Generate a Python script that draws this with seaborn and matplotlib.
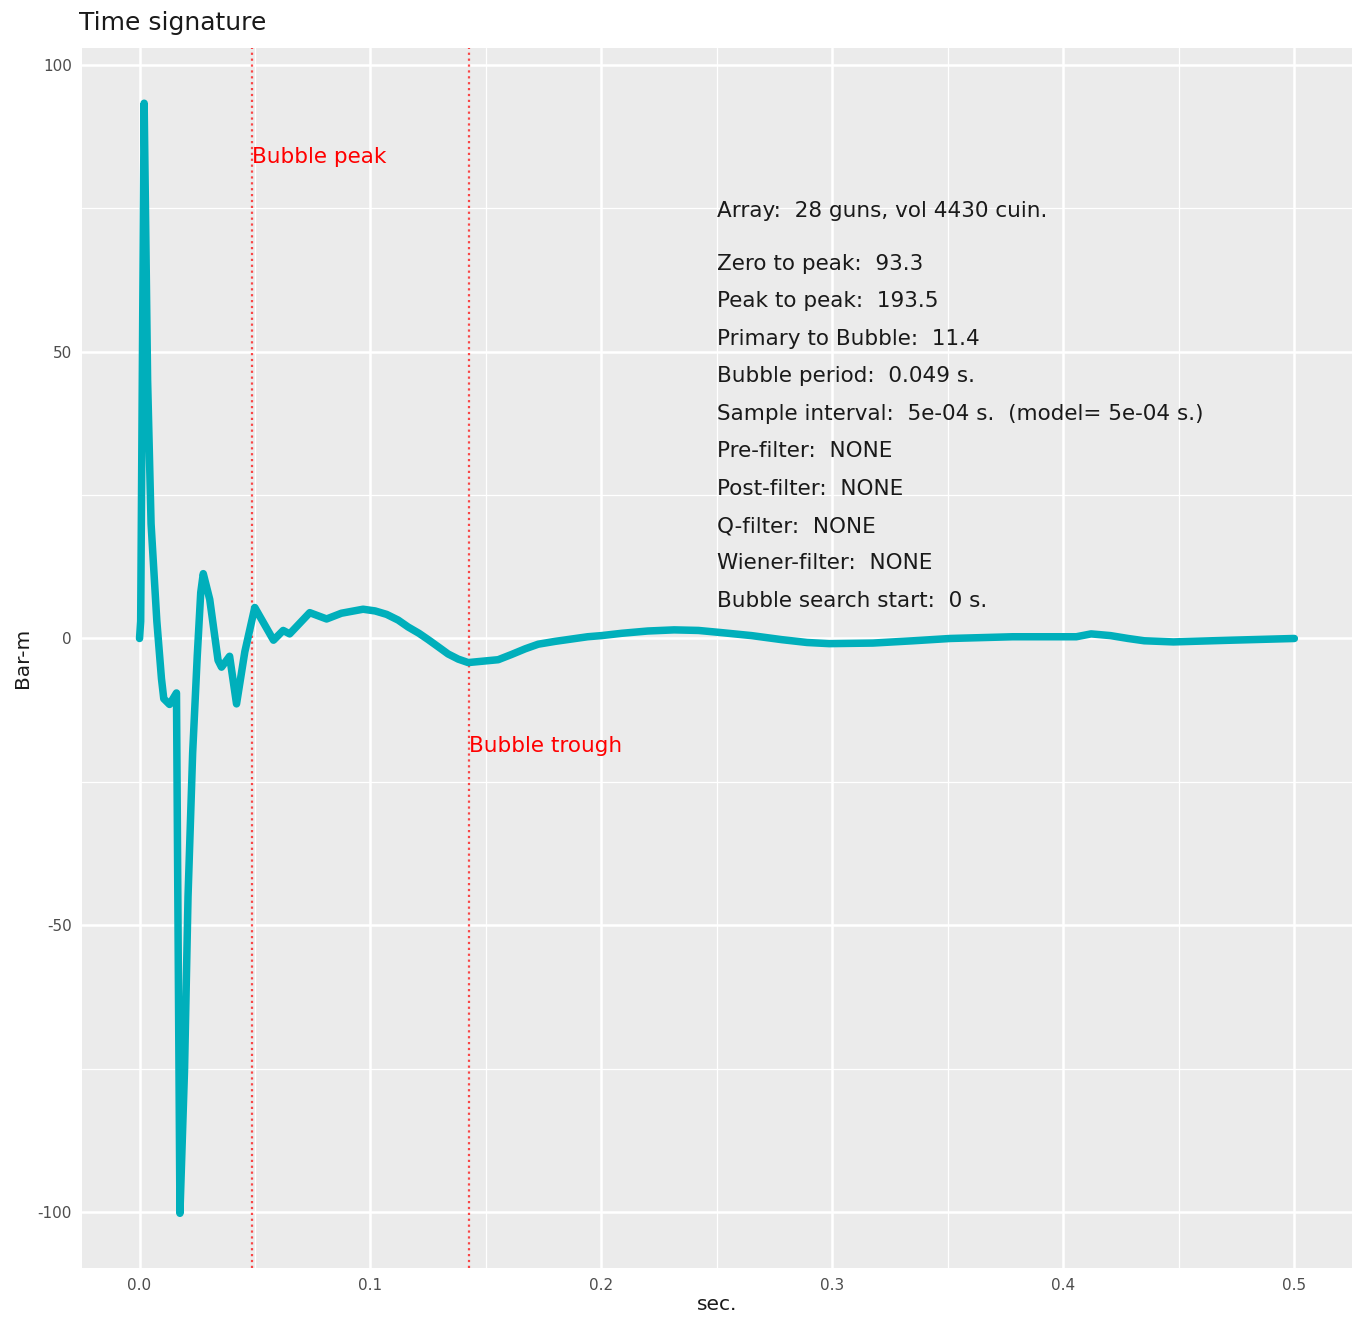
import numpy as np
import pandas as pd
import matplotlib
matplotlib.use("Agg")
import matplotlib.pyplot as plt
import seaborn as sns

# signature trace
t_sec = [0.0, 0.0005, 0.002, 0.0035, 0.005, 0.0075, 0.0095, 0.0105, 0.013, 0.016,
         0.0175, 0.0195, 0.021, 0.023, 0.025, 0.0265, 0.0276, 0.0304, 0.034, 0.0355,
         0.039, 0.042, 0.0456, 0.0499, 0.058, 0.0622, 0.065, 0.0737, 0.081, 0.0874,
         0.0968, 0.102, 0.107, 0.112, 0.1163, 0.121, 0.125, 0.1295, 0.1336, 0.138,
         0.1423, 0.1553, 0.161, 0.167, 0.1726, 0.18, 0.187, 0.194, 0.2, 0.2087,
         0.22, 0.2315, 0.242, 0.2525, 0.265, 0.278, 0.289, 0.2986, 0.3175, 0.335,
         0.351, 0.378, 0.4056, 0.412, 0.4204, 0.428, 0.435, 0.4476, 0.4727, 0.5]
bar_m = [0.0, 3.0, 93.3, 45.0, 20.0, 3.0, -7.0, -10.5, -11.5, -9.5,
         -100.2, -75.0, -45.0, -20.0, -3.0, 8.0, 11.3, 6.8, -3.8, -5.0,
         -3.1, -11.4, -2.3, 5.4, -0.3, 1.4, 0.8, 4.5, 3.4, 4.4,
         5.1, 4.8, 4.2, 3.2, 2.0, 0.9, -0.2, -1.5, -2.7, -3.6,
         -4.2, -3.7, -2.8, -1.8, -1.0, -0.5, -0.1, 0.3, 0.5, 0.9,
         1.3, 1.5, 1.4, 1.0, 0.5, -0.2, -0.7, -0.9, -0.8, -0.4,
         0.0, 0.3, 0.3, 0.8, 0.5, 0.0, -0.4, -0.6, -0.3, 0.0]

bubble_peak_t = 0.0485
bubble_trough_t = 0.1425
peak_label_y = 84.0
trough_label_y = -18.7

info_lines = [
    "Array:  28 guns, vol 4430 cuin.",
    "Zero to peak:  93.3",
    "Peak to peak:  193.5",
    "Primary to Bubble:  11.4",
    "Bubble period:  0.049 s.",
    "Sample interval:  5e-04 s.  (model= 5e-04 s.)",
    "Pre-filter:  NONE",
    "Post-filter:  NONE",
    "Q-filter:  NONE",
    "Wiener-filter:  NONE",
    "Bubble search start:  0 s.",
]
info_y = [74.6, 65.3, 58.8, 52.2, 45.7, 39.2, 32.7, 26.1, 19.6, 13.1, 6.5]
info_x = 0.25

df = pd.DataFrame({"sec.": t_sec, "Bar-m": bar_m})

sns.set_theme(style="darkgrid")
plt.rcParams['font.family'] = ['DejaVu Sans']

fig = plt.figure(figsize=(13.63, 13.22), dpi=100)
ax = fig.add_axes([0.060, 0.041, 0.932, 0.923])
ax.set_facecolor("#EBEBEB")

# 格子线
ax.set_xlim(-0.025, 0.525)
ax.set_ylim(-109.7, 103.0)
ax.set_xticks([0, 0.1, 0.2, 0.3, 0.4, 0.5])
ax.set_xticks([0.05, 0.15, 0.25, 0.35, 0.45], minor=True)
ax.set_yticks([-100, -50, 0, 50, 100])
ax.set_yticks([-75, -25, 25, 75], minor=True)
ax.grid(which="major", color="white", linewidth=1.8)
ax.grid(which="minor", color="white", linewidth=0.9)
ax.set_axisbelow(True)
for s in ax.spines.values():
    s.set_visible(False)

sns.lineplot(data=df, x="sec.", y="Bar-m", ax=ax, color="#00AFBB",
             linewidth=5.4, solid_capstyle="round", solid_joinstyle="round",
             zorder=3)

for xv in [bubble_peak_t, bubble_trough_t]:
    ax.axvline(xv, color="red", linestyle=":", linewidth=1.6, alpha=0.7, zorder=2)

ax.text(bubble_peak_t, peak_label_y, "Bubble peak", color="red", fontsize=15.5,
        ha="left", va="center")
ax.text(bubble_trough_t, trough_label_y, "Bubble trough", color="red", fontsize=15.5,
        ha="left", va="center")

for line, yv in zip(info_lines, info_y):
    ax.text(info_x, yv, line, color="#1A1A1A", fontsize=15.5, ha="left", va="center")

ax.tick_params(axis="both", which="major", length=4, width=1, color="#333333",
               labelsize=11, labelcolor="#4D4D4D", pad=3)
ax.tick_params(axis="both", which="minor", length=0)
ax.set_xticklabels(["0.0", "0.1", "0.2", "0.3", "0.4", "0.5"])
ax.set_yticklabels(["-100", "-50", "0", "50", "100"])
ax.set_xlabel("sec.", fontsize=14.5, color="#1A1A1A", labelpad=2)
ax.set_ylabel("Bar-m", fontsize=14.5, color="#1A1A1A", labelpad=4)
ax.set_title("Time signature", loc="left", fontsize=18, color="#1A1A1A", pad=13,
             x=-0.002)

fig.savefig("out.png", dpi=100)
